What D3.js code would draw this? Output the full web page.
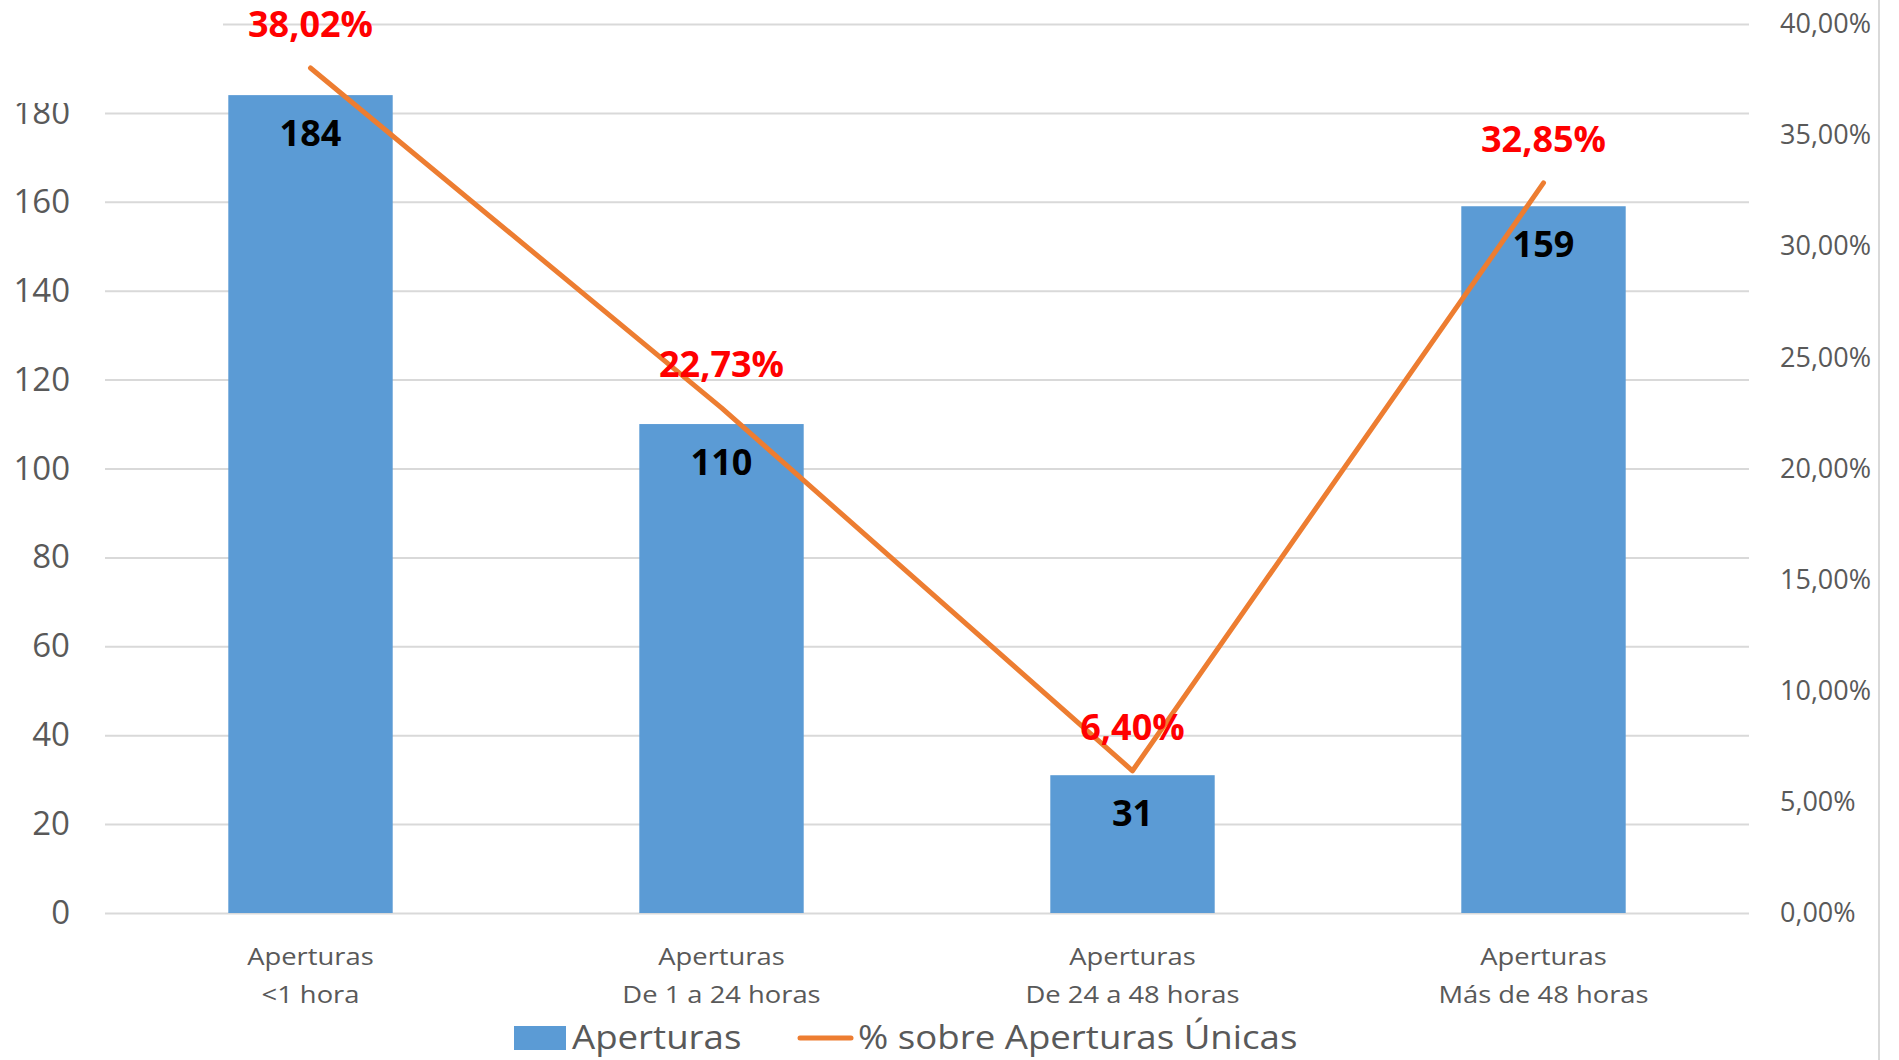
<!DOCTYPE html>
<html>
<head>
<meta charset="utf-8">
<script src="https://cdn.jsdelivr.net/npm/d3@7"></script>
<style>
  body { margin:0; background:#fff; }
  svg { display:block; font-family:"Open Sans", sans-serif; }
  .wide { transform-box: fill-box; transform-origin: center; transform: scaleX(1.14); }
  .wideL { transform-box: fill-box; transform-origin: left center; transform: scaleX(1.11); }
</style>
</head>
<body>
<div class="chart"></div>
<script>
// data
let categories=['<1 hora','De 1 a 24 horas','De 24 a 48 horas','Más de 48 horas']
let catPrefix='Aperturas'
let aperturas=[184,110,31,159]
let pctUnicas=[0.3802,0.2273,0.0640,0.3285]
let leftTicks=[0,20,40,60,80,100,120,140,160,180]
let gridTicks=[0,20,40,60,80,100,120,140,160,180,200]
let rightTicks=[0,0.05,0.10,0.15,0.20,0.25,0.30,0.35,0.40]
let seriesNames=['Aperturas','% sobre Aperturas Únicas']

let w=1899, h=1060
let plotL=105, plotR=1749, plotT=24, plotB=913
let barColor='#5B9BD5', lineColor='#ED7D31', gridColor='#D9D9D9', textColor='#595959'

let pct=(v)=>d3.format('.2f')(v*100).replace('.',',')+'%'

let svg=d3.select('.chart').append('svg').attr('width',w).attr('height',h)
svg.append('rect').attr('width',w).attr('height',h).attr('fill','#fff')

let x=d3.scaleBand().domain(categories).range([plotL,plotR]).paddingInner(0.6).paddingOuter(0.3)
let yL=d3.scaleLinear().domain([0,200]).range([plotB,plotT])
let yR=d3.scaleLinear().domain([0,0.40]).range([plotB,plotT])

// gridlines
let grid=svg.append('g').attr('transform','translate('+plotL+',0)')
  .call(d3.axisLeft(yL).tickValues(gridTicks).tickSize(-(plotR-plotL)).tickFormat(''))
grid.select('.domain').remove()
grid.selectAll('line').attr('stroke',gridColor).attr('stroke-width',2)

// left axis labels
let yAxisL=svg.append('g').attr('transform','translate(70,0)')
  .call(d3.axisLeft(yL).tickValues(leftTicks).tickSize(0).tickPadding(0))
yAxisL.select('.domain').remove()
yAxisL.selectAll('text').attr('fill',textColor).attr('font-size',33).attr('font-family','Open Sans')

// right axis labels
let yAxisR=svg.append('g').attr('transform','translate(1780,0)')
  .call(d3.axisRight(yR).tickValues(rightTicks).tickSize(0).tickPadding(0).tickFormat(pct))
yAxisR.select('.domain').remove()
yAxisR.selectAll('text').attr('fill',textColor).attr('font-size',27).attr('font-family','Open Sans')

// top-left of the picture is cut off
svg.append('rect').attr('x',0).attr('y',0).attr('width',223).attr('height',103).attr('fill','#fff')

// right border
svg.append('line').attr('x1',1879).attr('x2',1879).attr('y1',0).attr('y2',h)
  .attr('stroke',gridColor).attr('stroke-width',2)

// bars
svg.selectAll('rect.bar').data(aperturas).enter().append('rect').attr('class','bar')
  .attr('x',(d,i)=>x(categories[i])).attr('y',(d)=>yL(d))
  .attr('width',x.bandwidth()).attr('height',(d)=>yL(0)-yL(d)).attr('fill',barColor)

// bar value labels
svg.selectAll('text.val').data(aperturas).enter().append('text').attr('class','val')
  .attr('x',(d,i)=>x(categories[i])+x.bandwidth()/2).attr('y',(d)=>yL(d)+51)
  .attr('text-anchor','middle').attr('font-size',36).attr('font-weight','bold').attr('fill','#000')
  .text((d)=>d)

// line
let line=d3.line().x((d,i)=>x(categories[i])+x.bandwidth()/2).y((d)=>yR(d))
svg.append('path').datum(pctUnicas).attr('d',line).attr('fill','none')
  .attr('stroke',lineColor).attr('stroke-width',5).attr('stroke-linecap','round').attr('stroke-linejoin','round')

// line labels
svg.selectAll('text.pct').data(pctUnicas).enter().append('text').attr('class','pct')
  .attr('x',(d,i)=>x(categories[i])+x.bandwidth()/2).attr('y',(d)=>yR(d)-31)
  .attr('text-anchor','middle').attr('font-size',36).attr('font-weight','bold').attr('fill','#FF0000')
  .text((d)=>pct(d))

// category labels
let cat=svg.selectAll('g.cat').data(categories).enter().append('g').attr('class','cat')
cat.append('text').attr('class','wide').attr('x',(d)=>x(d)+x.bandwidth()/2).attr('y',965)
  .attr('text-anchor','middle').attr('font-size',24).attr('fill',textColor).text(catPrefix)
cat.append('text').attr('class','wide').attr('x',(d)=>x(d)+x.bandwidth()/2).attr('y',1003)
  .attr('text-anchor','middle').attr('font-size',24).attr('fill',textColor).text((d)=>d)

// legend
let lg=svg.append('g')
lg.append('rect').attr('x',514).attr('y',1026).attr('width',52).attr('height',24).attr('fill',barColor)
lg.append('text').attr('class','wideL').attr('x',572).attr('y',1049).attr('font-size',33).attr('fill',textColor).text(seriesNames[0])
lg.append('line').attr('x1',800).attr('x2',851).attr('y1',1038).attr('y2',1038)
  .attr('stroke',lineColor).attr('stroke-width',5).attr('stroke-linecap','round')
lg.append('text').attr('class','wideL').attr('x',858).attr('y',1049).attr('font-size',33).attr('fill',textColor).text(seriesNames[1])
</script>
</body>
</html>
